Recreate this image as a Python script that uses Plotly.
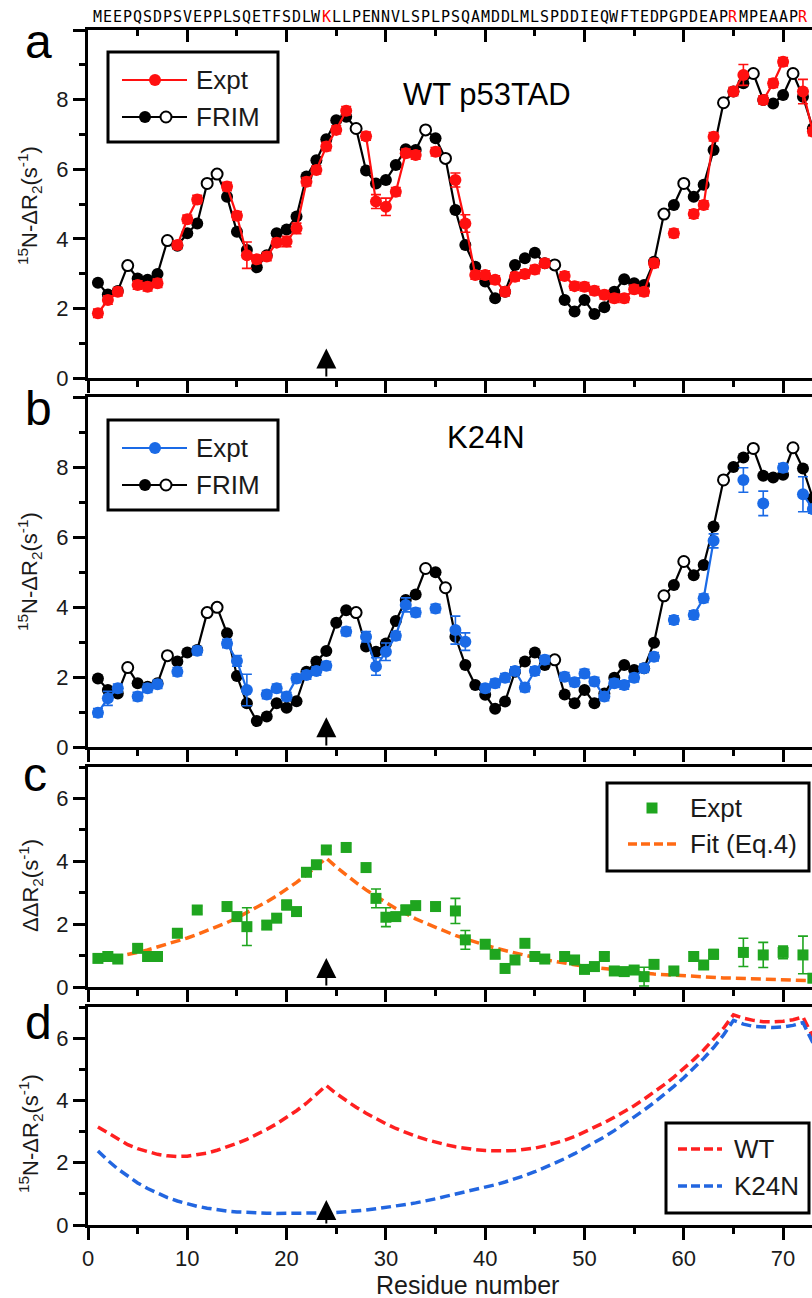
import plotly.graph_objects as go

W, H = 812, 1298
FONT = "Liberation Sans, Arial, Helvetica, sans-serif"
MONO = "DejaVu Sans Mono, monospace"

# ---------------- data ----------------
sequence = "MEEPQSDPSVEPPLSQETFSDLWKLLPENNVLSPLPSQAMDDLMLSPDDIEQWFTEDPGPDEAPRMPEAAPRV"
highlight_residues = [24, 65, 72]
residues = list(range(1, 74))
prolines = [i + 1 for i, c in enumerate(sequence) if c == "P"]
mutation_site = 24

frim_wt = [2.74, 2.40, 2.50, 3.23, 2.86, 2.82, 2.99, 3.95, 3.80, 4.16,
           4.44, 5.59, 5.86, 5.21, 4.20, 3.68, 3.18, 3.53, 4.16, 4.27,
           4.64, 5.79, 6.26, 6.86, 7.41, 7.51, 7.17, 5.96, 5.59, 5.69,
           6.12, 6.57, 6.55, 7.13, 6.89, 6.31, 4.83, 3.82, 3.20, 2.77,
           2.29, 2.48, 3.25, 3.44, 3.60, 3.30, 3.25, 2.24, 1.91, 2.24,
           1.84, 2.03, 2.48, 2.84, 2.72, 2.67, 3.34, 4.71, 4.97, 5.59,
           5.21, 5.55, 6.55, 7.91, 8.23, 8.47, 8.75, 7.99, 7.89, 8.13,
           8.75, 8.08, 7.17]

expt_wt = [1.86, 2.24, 2.48, None, 2.67, 2.62, 2.72, None, 3.82, 4.56,
           5.13, None, None, 5.50, 4.66, 3.53, 3.41, 3.49, 3.89, 3.92,
           4.30, 5.64, 5.98, 6.65, 7.13, 7.68, None, 6.95, 5.07, 4.92,
           5.35, 6.46, 6.41, None, 6.50, None, 5.69, 4.44, 2.96, 2.96,
           2.82, 2.48, 2.91, 2.99, 3.12, 3.30, None, 2.93, 2.64, 2.62,
           2.51, 2.39, 2.29, 2.29, 2.55, 2.48, 3.30, None, 4.16, None,
           4.71, 4.97, 6.93, None, 8.23, 8.71, None, 7.99, 8.47, 9.09,
           None, 8.23, 7.08]
expt_wt_err = [0.12, 0.12, 0.12, 0, 0.12, 0.12, 0.12, 0, 0.12, 0.12,
               0.12, 0, 0, 0.12, 0.12, 0.38, 0.12, 0.12, 0.12, 0.15,
               0.15, 0.12, 0.12, 0.12, 0.12, 0.12, 0, 0.12, 0.20, 0.25,
               0.12, 0.12, 0.12, 0, 0.12, 0, 0.20, 0.25, 0.12, 0.12,
               0.12, 0.12, 0.12, 0.12, 0.12, 0.12, 0, 0.12, 0.12, 0.12,
               0.12, 0.12, 0.12, 0.12, 0.12, 0.12, 0.12, 0, 0.12, 0,
               0.12, 0.12, 0.12, 0, 0.12, 0.30, 0, 0.12, 0.12, 0.12,
               0, 0.35, 0.12]

frim_k24n = [1.96, 1.63, 1.53, 2.27, 1.82, 1.72, 1.82, 2.61, 2.44, 2.70,
             2.77, 3.84, 3.99, 3.25, 2.03, 1.25, 0.74, 0.87, 1.25, 1.12,
             1.31, 2.15, 2.44, 2.74, 3.55, 3.91, 3.84, 2.87, 2.72, 2.96,
             3.60, 4.20, 4.36, 5.10, 4.99, 4.55, 3.15, 2.34, 1.77, 1.49,
             1.09, 1.30, 2.15, 2.44, 2.70, 2.34, 2.49, 1.50, 1.25, 1.63,
             1.25, 1.53, 1.98, 2.34, 2.20, 2.25, 2.98, 4.32, 4.63, 5.30,
             4.91, 5.20, 6.30, 7.63, 8.00, 8.27, 8.53, 7.75, 7.70, 7.78,
             8.55, 7.96, 7.10]

expt_k24n = [0.98, 1.39, 1.68, None, 1.44, 1.68, 1.79, None, 2.15, None,
             2.75, None, None, 2.96, 2.46, 1.63, None, 1.50, 1.68, 1.44,
             1.96, 2.06, 2.17, 2.32, None, 3.30, None, 3.15, 2.30, 2.72,
             3.18, 4.06, 3.84, None, 3.96, None, 3.34, 3.01, None, 1.68,
             1.82, 1.98, 2.17, 1.70, 2.17, 2.49, None, 2.01, 1.85, 2.10,
             1.87, 1.44, 1.82, 1.77, 1.98, 2.25, 2.58, None, 3.63, None,
             3.77, 4.25, 5.89, None, None, 7.63, None, 6.96, None, 7.98,
             None, 7.22, 6.80]
expt_k24n_err = [0.12, 0.20, 0.12, 0, 0.12, 0.12, 0.12, 0, 0.12, 0,
                 0.12, 0, 0, 0.12, 0.15, 0.45, 0, 0.12, 0.12, 0.12,
                 0.12, 0.12, 0.12, 0.12, 0, 0.12, 0, 0.15, 0.25, 0.25,
                 0.12, 0.20, 0.12, 0, 0.12, 0, 0.40, 0.25, 0, 0.12,
                 0.12, 0.12, 0.12, 0.12, 0.12, 0.12, 0, 0.12, 0.12, 0.12,
                 0.12, 0.12, 0.12, 0.12, 0.12, 0.12, 0.12, 0, 0.12, 0,
                 0.12, 0.12, 0.20, 0, 0, 0.35, 0, 0.35, 0, 0.12,
                 0, 0.50, 0.12]

ddr2 = [0.91, 0.97, 0.89, None, 1.23, 0.97, 0.97, None, 1.71, None,
        2.45, None, None, 2.56, 2.24, 1.92, None, 1.97, 2.19, 2.61,
        2.40, 3.65, 3.89, 4.36, None, 4.44, None, 3.80, 2.82, 2.22,
        2.24, 2.45, 2.59, None, 2.56, None, 2.42, 1.50, None, 1.36,
        1.04, 0.59, 0.86, 1.39, 0.97, 0.89, None, 0.97, 0.86, 0.56,
        0.65, 0.97, 0.51, 0.49, 0.54, 0.33, 0.72, None, 0.51, None,
        0.97, 0.70, 1.04, None, None, 1.10, None, 1.02, None, 1.10,
        None, 1.02, 0.28]
ddr2_err = [0.12, 0.15, 0.12, 0, 0.12, 0.12, 0.12, 0, 0.12, 0,
            0.12, 0, 0, 0.12, 0.12, 0.60, 0, 0.12, 0.12, 0.15,
            0.12, 0.12, 0.12, 0.12, 0, 0.12, 0, 0.12, 0.30, 0.30,
            0.12, 0.15, 0.12, 0, 0.12, 0, 0.40, 0.30, 0, 0.12,
            0.12, 0.12, 0.12, 0.12, 0.12, 0.12, 0, 0.12, 0.12, 0.12,
            0.12, 0.12, 0.12, 0.12, 0.12, 0.30, 0.12, 0, 0.12, 0,
            0.15, 0.12, 0.15, 0, 0, 0.45, 0, 0.40, 0, 0.20,
            0, 0.60, 0.12]

fit_ddr2 = [0.84, 0.90, 0.96, 1.03, 1.10, 1.18, 1.27, 1.36, 1.45, 1.56,
            1.67, 1.79, 1.92, 2.05, 2.20, 2.36, 2.53, 2.71, 2.90, 3.11,
            3.33, 3.57, 3.83, 4.10, 3.82, 3.56, 3.32, 3.09, 2.88, 2.69,
            2.50, 2.33, 2.17, 2.03, 1.89, 1.76, 1.64, 1.53, 1.43, 1.33,
            1.24, 1.16, 1.08, 1.00, 0.94, 0.87, 0.81, 0.76, 0.71, 0.66,
            0.62, 0.58, 0.54, 0.50, 0.47, 0.44, 0.41, 0.39, 0.37, 0.35,
            0.33, 0.32, 0.30, 0.29, 0.28, 0.27, 0.26, 0.25, 0.24, 0.23,
            0.22, 0.21, 0.20]

model_wt = [3.15, 2.95, 2.75, 2.58, 2.45, 2.35, 2.27, 2.22, 2.20, 2.21,
            2.25, 2.31, 2.40, 2.50, 2.62, 2.75, 2.90, 3.07, 3.25, 3.45,
            3.67, 3.91, 4.18, 4.48, 4.22, 3.99, 3.78, 3.59, 3.41, 3.25,
            3.10, 2.97, 2.85, 2.75, 2.66, 2.58, 2.51, 2.46, 2.42, 2.39,
            2.38, 2.38, 2.39, 2.42, 2.47, 2.54, 2.62, 2.72, 2.84, 2.98,
            3.13, 3.29, 3.46, 3.64, 3.83, 4.04, 4.26, 4.50, 4.75, 5.02,
            5.31, 5.62, 5.95, 6.32, 6.75, 6.64, 6.57, 6.53, 6.52, 6.54,
            6.59, 6.68, 6.05]

model_k24n = [2.38, 2.07, 1.80, 1.56, 1.35, 1.17, 1.01, 0.88, 0.77, 0.68,
              0.60, 0.54, 0.49, 0.45, 0.42, 0.40, 0.39, 0.38, 0.37, 0.37,
              0.37, 0.37, 0.38, 0.39, 0.40, 0.42, 0.45, 0.48, 0.52, 0.56,
              0.61, 0.66, 0.71, 0.77, 0.84, 0.92, 0.99, 1.06, 1.13, 1.21,
              1.29, 1.38, 1.48, 1.59, 1.71, 1.84, 1.98, 2.13, 2.29, 2.46,
              2.64, 2.83, 3.03, 3.24, 3.46, 3.69, 3.93, 4.18, 4.45, 4.73,
              5.03, 5.35, 5.70, 6.10, 6.57, 6.45, 6.38, 6.35, 6.34, 6.36,
              6.41, 6.50, 5.85]

y_ticks_ab = [0, 2, 4, 6, 8, 10]
y_ticktext_ab = ["0", "2", "4", "6", "8", ""]
y_minor_ab = [1, 3, 5, 7, 9]
y_ticks_cd = [0, 2, 4, 6]
y_ticktext_cd = ["0", "2", "4", "6"]
y_minor_cd = [1, 3, 5, 7]

# ---------------- colors ----------------
RED = "#ff1010"
BLUE = "#1a6ae6"
GREEN = "#1fa51f"
ORANGE = "#ff6a14"
DRED = "#ff2020"
DBLUE = "#2266e0"


def X(px):
    return px / W


def Y(py):
    return 1 - py / H


fig = go.Figure()

open_x = prolines
filled_x = [r for r in residues if r not in prolines]


def add_frim(frim, xa, ya):
    fig.add_trace(go.Scatter(x=residues, y=frim, mode="lines",
                             line=dict(color="black", width=2.2),
                             xaxis=xa, yaxis=ya, hoverinfo="skip"))
    fig.add_trace(go.Scatter(x=filled_x, y=[frim[r - 1] for r in filled_x], mode="markers",
                             marker=dict(symbol="circle", size=12, color="black"),
                             xaxis=xa, yaxis=ya))
    fig.add_trace(go.Scatter(x=open_x, y=[frim[r - 1] for r in open_x], mode="markers",
                             marker=dict(symbol="circle", size=11, color="white",
                                         line=dict(color="black", width=2)),
                             xaxis=xa, yaxis=ya))


def add_expt(vals, err, color, xa, ya, symbol="circle", lines=True):
    fig.add_trace(go.Scatter(
        x=residues, y=vals, mode="lines+markers" if lines else "markers",
        connectgaps=False,
        line=dict(color=color, width=2.2),
        marker=dict(symbol=symbol, size=12 if symbol == "circle" else 11, color=color),
        error_y=dict(type="data", array=err, color=color, thickness=1.6, width=5, visible=True),
        xaxis=xa, yaxis=ya))


# panel a
add_frim(frim_wt, "x", "y")
add_expt(expt_wt, expt_wt_err, RED, "x", "y")
# panel b
add_frim(frim_k24n, "x2", "y2")
add_expt(expt_k24n, expt_k24n_err, BLUE, "x2", "y2")
# panel c
fig.add_trace(go.Scatter(x=residues, y=fit_ddr2, mode="lines",
                         line=dict(color=ORANGE, width=3.5, dash="10px,5px"),
                         xaxis="x3", yaxis="y3"))
add_expt(ddr2, ddr2_err, GREEN, "x3", "y3", symbol="square", lines=False)
# panel d
fig.add_trace(go.Scatter(x=residues, y=model_wt, mode="lines",
                         line=dict(color=DRED, width=3.5, dash="10px,5px"),
                         xaxis="x4", yaxis="y4"))
fig.add_trace(go.Scatter(x=residues, y=model_k24n, mode="lines",
                         line=dict(color=DBLUE, width=3.5, dash="10px,5px"),
                         xaxis="x4", yaxis="y4"))
# dummy trace to activate top axis of panel a
fig.add_trace(go.Scatter(x=[None], y=[None], xaxis="x5", yaxis="y", hoverinfo="skip"))

# ---------------- axes ----------------
x_dom = [X(88), 1.0]
x_rng = [0, (W - 88) / 9.93]
tickfont = dict(family=FONT, size=22, color="#1a1a1a")


def xaxis(anchor, labels=False, mirror=True):
    return dict(domain=x_dom, range=x_rng, anchor=anchor, showline=True, linecolor="black",
                linewidth=3, mirror=mirror, ticks="outside", ticklen=12, tickwidth=2.5,
                tickcolor="black", tickmode="linear", tick0=0, dtick=10,
                minor=dict(ticks="outside", ticklen=6, tickwidth=2.5, tickcolor="black",
                           tickmode="linear", tick0=0, dtick=5),
                showticklabels=labels, tickfont=tickfont, showgrid=False, zeroline=False,
                automargin=False, fixedrange=True)


def yaxis(anchor, dom, rng, tv, tt, mv):
    return dict(domain=dom, range=rng, anchor=anchor, showline=True, linecolor="black",
                linewidth=3, mirror=False, ticks="outside", ticklen=12, tickwidth=2.5,
                tickcolor="black", tickmode="array", tickvals=tv, ticktext=tt,
                minor=dict(ticks="outside", ticklen=6, tickwidth=2.5, tickcolor="black",
                           tickmode="array", tickvals=mv),
                tickfont=tickfont, showgrid=False, zeroline=False, automargin=False,
                fixedrange=True)


layout = dict(
    width=W, height=H, margin=dict(l=0, r=0, t=0, b=0),
    paper_bgcolor="white", plot_bgcolor="white", showlegend=False,
    font=dict(family=FONT, color="black"),
    xaxis=xaxis("y", mirror=False),
    xaxis2=xaxis("y2"),
    xaxis3=xaxis("y3"),
    xaxis4=xaxis("y4", labels=True),
    xaxis5=dict(overlaying="x", anchor="y", side="top", range=x_rng, showline=True,
                linecolor="black", linewidth=3, ticks="inside", ticklen=12, tickwidth=2.5,
                tickcolor="black", tickmode="linear", tick0=0, dtick=10,
                minor=dict(ticks="inside", ticklen=6, tickwidth=2.5, tickcolor="black",
                           tickmode="linear", tick0=0, dtick=5),
                showticklabels=False, showgrid=False, zeroline=False, automargin=False),
    yaxis=yaxis("x", [Y(378), Y(30)], [0, 10], y_ticks_ab, y_ticktext_ab, y_minor_ab),
    yaxis2=yaxis("x2", [Y(747), Y(397)], [0, 10], y_ticks_ab, y_ticktext_ab, y_minor_ab),
    yaxis3=yaxis("x3", [Y(987), Y(767)], [0, 7], y_ticks_cd, y_ticktext_cd, y_minor_cd),
    yaxis4=yaxis("x4", [Y(1225), Y(1007)], [0, 7], y_ticks_cd, y_ticktext_cd, y_minor_cd),
)
fig.update_layout(**layout)

ann = []
shapes = []

# sequence on top
for r, ch in zip(residues, sequence):
    ann.append(dict(x=r, y=Y(17), xref="x", yref="paper", text=ch, showarrow=False,
                    xanchor="center", yanchor="middle",
                    font=dict(family=MONO, size=15,
                              color="#ff0000" if r in highlight_residues else "black")))

# panel letters
for lab, (px, py) in zip("abcd", [(38, 42), (38, 408), (35, 775), (38, 1022)]):
    ann.append(dict(x=X(px), y=Y(py), xref="paper", yref="paper", text=lab, showarrow=False,
                    xanchor="center", yanchor="middle", font=dict(family=FONT, size=48)))

# y titles
ytitle = "<sup>15</sup>N-ΔR<sub>2</sub>(s<sup>-1</sup>)"
for txt, py in [(ytitle, 206), (ytitle, 572), ("ΔΔR<sub>2</sub>(s<sup>-1</sup>)", 886), (ytitle, 1134)]:
    ann.append(dict(x=X(30), y=Y(py), xref="paper", yref="paper", text=txt, showarrow=False,
                    textangle=-90, xanchor="center", yanchor="middle",
                    font=dict(family=FONT, size=22, color="#1a1a1a")))

# x title
ann.append(dict(x=X(467), y=Y(1285), xref="paper", yref="paper", text="Residue number",
                 showarrow=False, xanchor="center", yanchor="middle",
                 font=dict(family=FONT, size=25, color="#1a1a1a")))

# panel titles
ann.append(dict(x=X(487), y=Y(75), xref="paper", yref="paper", text="WT p53TAD",
                showarrow=False, font=dict(family=FONT, size=31)))
ann.append(dict(x=X(486), y=Y(438), xref="paper", yref="paper", text="K24N",
                showarrow=False, font=dict(family=FONT, size=31)))

# arrows at the mutation site
for xr_, yr_, tip in [("x", "y", 0.85), ("x2", "y2", 0.85), ("x3", "y3", 0.92), ("x4", "y4", 0.8)]:
    ann.append(dict(x=mutation_site, y=tip, ax=mutation_site, ay=0, xref=xr_, yref=yr_,
                    axref=xr_, ayref=yr_, text="", showarrow=True, arrowhead=2,
                    arrowsize=2.0, arrowwidth=2, arrowcolor="black", standoff=0))


# ---------- legends (drawn manually) ----------
def box(x0, y0, x1, y1):
    shapes.append(dict(type="rect", xref="paper", yref="paper", x0=X(x0), x1=X(x1),
                       y0=Y(y1), y1=Y(y0), line=dict(color="black", width=3),
                       fillcolor="white", layer="above"))


def hline(x0, x1, y, color, width=2.2, dash="solid"):
    shapes.append(dict(type="line", xref="paper", yref="paper", x0=X(x0), x1=X(x1),
                       y0=Y(y), y1=Y(y), line=dict(color=color, width=width, dash=dash),
                       layer="above"))


def dot(cx, cy, color, fill, r=6, w=0):
    shapes.append(dict(type="circle", xref="paper", yref="paper", x0=X(cx - r), x1=X(cx + r),
                       y0=Y(cy + r), y1=Y(cy - r), fillcolor=fill,
                       line=dict(color=color, width=w), layer="above"))


def sq(cx, cy, color, r=5.5):
    shapes.append(dict(type="rect", xref="paper", yref="paper", x0=X(cx - r), x1=X(cx + r),
                       y0=Y(cy + r), y1=Y(cy - r), fillcolor=color,
                       line=dict(color=color, width=0), layer="above"))


def ltext(px, py, txt):
    ann.append(dict(x=X(px), y=Y(py), xref="paper", yref="paper", text=txt, showarrow=False,
                    xanchor="left", yanchor="middle",
                    font=dict(family=FONT, size=26, color="#1a1a1a")))


for top, col in [(52, RED), (420, BLUE)]:
    box(108, top, 278, top + 90)
    ey, fy = top + 28, top + 65
    hline(122, 187, ey, col)
    dot(155, ey, col, col)
    ltext(194, ey, "Expt")
    hline(122, 187, fy, "black")
    dot(145, fy, "black", "black")
    dot(166, fy, "black", "white", r=5.5, w=2)
    ltext(194, fy, "FRIM")

box(607, 783, 809, 871)
sq(652, 808, GREEN)
ltext(688, 808, "Expt")
hline(628, 678, 844, ORANGE, width=3.5, dash="9px,4px")
ltext(688, 844, "Fit (Eq.4)")

box(666, 1123, 809, 1213)
hline(678, 722, 1149, DRED, width=3.5, dash="9px,4px")
ltext(732, 1149, "WT")
hline(678, 722, 1186, DBLUE, width=3.5, dash="9px,4px")
ltext(732, 1186, "K24N")

fig.update_layout(annotations=ann, shapes=shapes)
fig.write_html("out.html", config={"displayModeBar": False},
               post_script="document.body.style.margin='0px';document.body.style.overflow='hidden';")
